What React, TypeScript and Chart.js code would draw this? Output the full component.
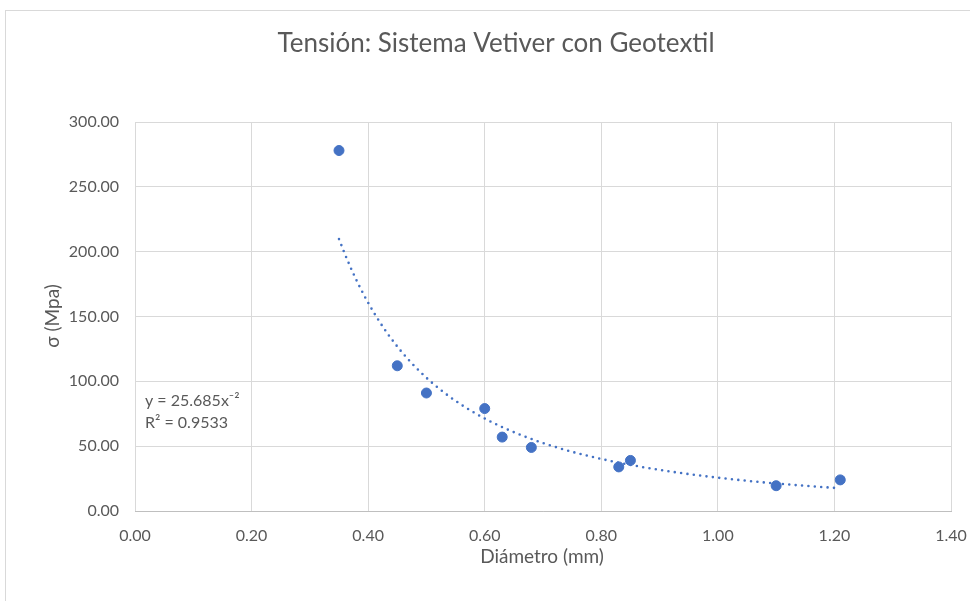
import React, { useEffect, useRef } from "react";
import { Chart, registerables } from "chart.js";

Chart.register(...registerables);

const diameters = [0.35, 0.45, 0.5, 0.6, 0.63, 0.68, 0.83, 0.85, 1.1, 1.21];
const stresses = [278, 112, 91, 79, 57, 49, 34, 39, 19.5, 24];

const trendCoef = 25.685;
const trendExp = -2;
const trendLabel = "y = 25.685x⁻²";
const r2Label = "R² = 0.9533";

const chartTitle = "Tensión: Sistema Vetiver con Geotextil";
const xTitle = "Diámetro (mm)";
const yTitle = "σ (Mpa)";

const xMin = 0;
const xMax = 1.4;
const xStep = 0.2;
const yMin = 0;
const yMax = 300;
const yStep = 50;

const BLUE = "#4472C4";
const TEXT = "#595959";
const FONT = "Lato";

function trendPoints() {
  const lo = Math.min(...diameters);
  const hi = Math.max(...diameters);
  const n = 80;
  const pts: { x: number; y: number }[] = [];
  for (let i = 0; i <= n; i++) {
    const x = lo + ((hi - lo) * i) / n;
    pts.push({ x, y: trendCoef * Math.pow(x, trendExp) });
  }
  return pts;
}

const textPlugin = {
  id: "textPlugin",
  afterDraw(chart: any) {
    const ctx = chart.ctx;
    ctx.save();
    ctx.fillStyle = TEXT;
    ctx.textAlign = "center";
    ctx.textBaseline = "middle";
    ctx.font = `400 26px ${FONT}`;
    ctx.fillText(chartTitle, 496, 44);
    ctx.font = `19px ${FONT}`;
    ctx.fillText(xTitle, 542, 557);
    ctx.save();
    ctx.translate(53, 316);
    ctx.rotate(-Math.PI / 2);
    ctx.fillText(yTitle, 0, 0);
    ctx.restore();
    ctx.font = `16px ${FONT}`;
    ctx.textAlign = "left";
    ctx.fillText(trendLabel, 145, 401);
    ctx.fillText(r2Label, 145, 423);
    ctx.restore();
  },
};

export default function App() {
  const ref = useRef<HTMLCanvasElement>(null);
  useEffect(() => {
    if (!ref.current) return;
    const chart = new Chart(ref.current, {
      type: "scatter",
      data: {
        datasets: [
          {
            label: "σ",
            data: diameters.map((d, i) => ({ x: d, y: stresses[i] })),
            backgroundColor: BLUE,
            borderColor: BLUE,
            pointRadius: 5,
            pointHoverRadius: 5,
            showLine: false,
          },
          {
            label: "trend",
            data: trendPoints(),
            borderColor: BLUE,
            backgroundColor: BLUE,
            showLine: true,
            pointRadius: 0,
            borderWidth: 2.6,
            borderDash: [0, 6.4],
            borderCapStyle: "round",
            tension: 0,
          } as any,
        ],
      },
      options: {
        animation: false,
        responsive: false,
        devicePixelRatio: 1,
        layout: { padding: { left: 0, top: 122, right: 19, bottom: 0 } },
        plugins: {
          legend: { display: false },
          tooltip: { enabled: false },
          title: { display: false },
        },
        scales: {
          x: {
            type: "linear",
            min: xMin,
            max: xMax,
            ticks: {
              stepSize: xStep,
              color: TEXT,
              font: { family: FONT, size: 16 },
              padding: 15,
              callback: (v: any) => Number(v).toFixed(2),
            },
            grid: { color: "#D9D9D9", drawTicks: false, lineWidth: 1 },
            border: { display: true, color: "#BFBFBF" },
            afterFit: (s: any) => {
              s.height = 90;
              s.paddingLeft = 0;
              s.paddingRight = 0;
            },
          },
          y: {
            type: "linear",
            min: yMin,
            max: yMax,
            ticks: {
              stepSize: yStep,
              color: TEXT,
              font: { family: FONT, size: 16 },
              padding: 16,
              callback: (v: any) => Number(v).toFixed(2),
            },
            grid: { color: "#D9D9D9", drawTicks: false, lineWidth: 1 },
            border: { display: false },
            afterFit: (s: any) => {
              s.width = 135;
              s.paddingTop = 0;
              s.paddingBottom = 0;
            },
          },
        },
      },
      plugins: [textPlugin],
    });
    return () => chart.destroy();
  }, []);

  return (
    <div style={{ position: "fixed", left: 0, top: 0, width: 970, height: 601, background: "#fff", overflow: "hidden" }}>
      <div
        style={{
          position: "absolute",
          left: 5,
          top: 10,
          width: 980,
          height: 610,
          borderLeft: "1px solid #D9D9D9",
          borderTop: "1px solid #D9D9D9",
        }}
      />
      <canvas ref={ref} width={970} height={601} style={{ position: "absolute", left: 0, top: 0 }} />
    </div>
  );
}
